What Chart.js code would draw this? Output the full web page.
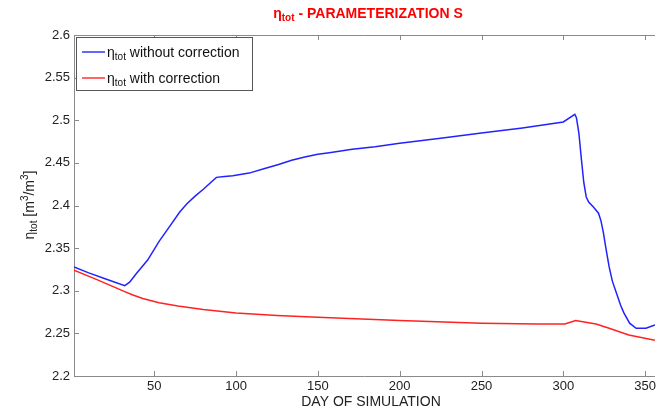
<!DOCTYPE html>
<html>
<head>
<meta charset="utf-8">
<script src="https://cdn.jsdelivr.net/npm/chart.js@4"></script>
<style>
  body { margin: 0; background: #fff; }
  #wrap { width: 659px; height: 410px; }
</style>
</head>
<body>
<div id="wrap"><canvas id="etaChart" width="659" height="410"></canvas></div>
<script>
// values
var daysWithout = [1, 10, 20, 32, 35, 39, 46, 53, 60, 65.5, 70, 75, 80, 88, 93, 98, 108, 117, 126, 134, 142, 150, 157, 171, 185, 200, 225, 250, 275, 300, 307,
    308, 309.5, 311, 312.5, 314, 315.5, 318.5, 321.5, 323, 324.5, 326, 328, 330, 332.5, 335, 337, 340.5, 344.5, 350.5, 356];
var etaWithout = [2.328, 2.321, 2.314, 2.306, 2.31, 2.32, 2.336, 2.358, 2.377, 2.392, 2.402, 2.411, 2.419, 2.433, 2.434, 2.435, 2.438, 2.443, 2.448, 2.453, 2.457, 2.46, 2.462, 2.466, 2.469, 2.473, 2.479, 2.485, 2.491, 2.498, 2.507,
    2.503, 2.485, 2.455, 2.427, 2.41, 2.404, 2.398, 2.391, 2.382, 2.368, 2.35, 2.328, 2.311, 2.297, 2.283, 2.274, 2.262, 2.256, 2.256, 2.26];

var daysWith = [1, 15, 32, 37, 43, 53, 64.5, 80, 100, 125, 150, 200, 250, 284, 301, 307.5, 320, 328, 340, 356];
var etaWith = [2.324, 2.313, 2.299, 2.295, 2.291, 2.286, 2.282, 2.278, 2.274, 2.271, 2.269, 2.265, 2.262, 2.261, 2.261, 2.265, 2.261, 2.256, 2.248, 2.242];

var xTicks = [50, 100, 150, 200, 250, 300, 350];
var yTicks = [2.2, 2.25, 2.3, 2.35, 2.4, 2.45, 2.5, 2.55, 2.6];

var FONT = "'Liberation Sans', Arial, sans-serif";

const toPoints = (xs, ys) => xs.map((x, i) => ({x: x, y: ys[i]}));

// draw text with sub/superscripts, parts = [[text, size, dy, bold]]
const richWidth = (ctx, parts) => {
    var w = 0;
    parts.forEach(p => {
        ctx.font = (p[3] ? "bold " : "") + p[1] + "px " + FONT;
        w += ctx.measureText(p[0]).width;
    });
    return w;
};
const drawRich = (ctx, parts, x, y) => {
    parts.forEach(p => {
        ctx.font = (p[3] ? "bold " : "") + p[1] + "px " + FONT;
        ctx.fillText(p[0], x, y + p[2]);
        x += ctx.measureText(p[0]).width;
    });
};

var decor = {
    id: 'decor',
    afterDraw(chart) {
        var ctx = chart.ctx;
        var a = chart.chartArea;
        var xs = chart.scales.x, ys = chart.scales.y;
        ctx.save();
        ctx.textBaseline = 'alphabetic';
        ctx.textAlign = 'left';

        // top border + inward ticks
        ctx.strokeStyle = '#8a8a8a';
        ctx.lineWidth = 1;
        ctx.beginPath();
        ctx.moveTo(a.left, a.top + 0.5);
        ctx.lineTo(a.right, a.top + 0.5);
        xTicks.forEach(t => {
            var px = Math.round(xs.getPixelForValue(t)) + 0.5;
            ctx.moveTo(px, a.bottom); ctx.lineTo(px, a.bottom - 5);
            ctx.moveTo(px, a.top); ctx.lineTo(px, a.top + 5);
        });
        yTicks.forEach(t => {
            var py = Math.round(ys.getPixelForValue(t)) + 0.5;
            ctx.moveTo(a.left, py); ctx.lineTo(a.left + 5, py);
        });
        ctx.stroke();

        // title
        ctx.fillStyle = '#ff0000';
        var tparts = [['η', 14, 0, true], ['tot', 10, 3, true], [' - PARAMETERIZATION S', 14, 0, true]];
        var tw = richWidth(ctx, tparts);
        drawRich(ctx, tparts, 368 - tw / 2, 18);

        // x axis title
        ctx.fillStyle = '#222';
        ctx.font = "14px " + FONT;
        ctx.textAlign = 'center';
        ctx.fillText('DAY OF SIMULATION', 371, 406);
        ctx.textAlign = 'left';

        // y axis title
        var yparts = [['η', 14, 0], ['tot', 10, 3], [' [m', 14, 0], ['3', 10, -6], ['/m', 14, 0], ['3', 10, -6], [']', 14, 0]];
        var yw = richWidth(ctx, yparts);
        ctx.save();
        ctx.translate(34, 205);
        ctx.rotate(-Math.PI / 2);
        drawRich(ctx, yparts, -yw / 2, 0);
        ctx.restore();

        // legend box
        var lx = 76, ly = 37, lw = 176, lh = 53;
        ctx.fillStyle = '#fff';
        ctx.fillRect(lx, ly, lw, lh);
        ctx.strokeStyle = '#555';
        ctx.strokeRect(lx + 0.5, ly + 0.5, lw, lh);
        var items = [['#3333ff', ' without correction', 52], ['#ff3333', ' with correction', 78]];
        items.forEach(it => {
            ctx.strokeStyle = it[0];
            ctx.lineWidth = 1.5;
            ctx.beginPath();
            ctx.moveTo(82, it[2]); ctx.lineTo(105, it[2]);
            ctx.stroke();
            ctx.fillStyle = '#111';
            drawRich(ctx, [['η', 14, 0], ['tot', 10, 3], [it[1], 14, 0]], 107, it[2] + 5);
        });
        ctx.restore();
    }
};

var ctx1 = document.getElementById('etaChart');
var chart1 = new Chart(ctx1, {
    type: 'line',
    data: {
        datasets: [
            {
                label: 'without correction',
                data: toPoints(daysWithout, etaWithout),
                borderColor: '#2222ff',
                borderWidth: 1.5,
                pointRadius: 0,
                tension: 0
            },
            {
                label: 'with correction',
                data: toPoints(daysWith, etaWith),
                borderColor: '#ff2222',
                borderWidth: 1.5,
                pointRadius: 0,
                tension: 0
            }
        ]
    },
    options: {
        responsive: false,
        animation: false,
        events: [],
        layout: { padding: { top: 35, right: 0, left: 0, bottom: 0 } },
        plugins: {
            legend: { display: false },
            title: { display: false },
            tooltip: { enabled: false }
        },
        scales: {
            x: {
                type: 'linear',
                min: 1,
                max: 356,
                afterBuildTicks: s => { s.ticks = xTicks.map(v => ({value: v})); },
                afterFit: s => { s.height = 34; },
                grid: { display: false, drawTicks: false, tickLength: 0 },
                border: { display: true, color: '#8a8a8a' },
                ticks: {
                    padding: 3,
                    color: '#222',
                    font: { family: FONT, size: 13 },
                    maxRotation: 0
                }
            },
            y: {
                min: 2.2,
                max: 2.6,
                afterBuildTicks: s => { s.ticks = yTicks.map(v => ({value: v})); },
                afterFit: s => { s.width = 74; },
                grid: { display: false, drawTicks: false, tickLength: 0 },
                border: { display: true, color: '#8a8a8a' },
                ticks: {
                    padding: 4,
                    color: '#222',
                    font: { family: FONT, size: 13 },
                    callback: v => String(Number(v.toFixed(2)))
                }
            }
        }
    },
    plugins: [decor]
});
</script>
</body>
</html>
